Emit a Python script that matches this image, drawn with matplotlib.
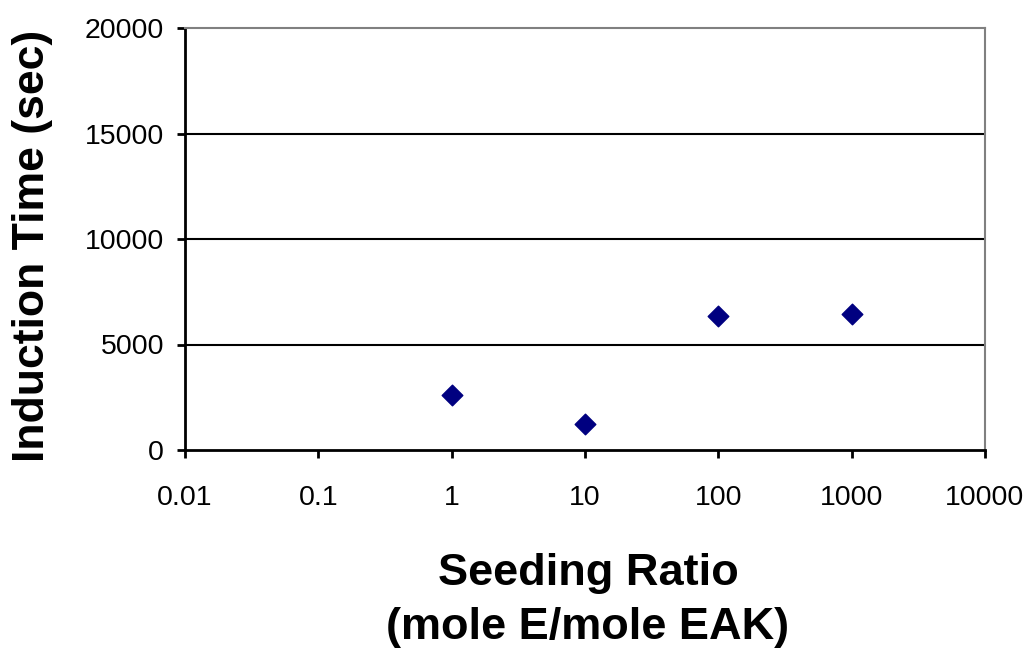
import numpy as np
import matplotlib.pyplot as plt
from matplotlib.ticker import FixedLocator, FixedFormatter, NullLocator

plt.rcParams['font.family'] = ['Liberation Sans', 'DejaVu Sans']

# dados
razao = [1, 10, 100, 1000]
tempo = [2620, 1250, 6340, 6450]
xticks = [0.01, 0.1, 1, 10, 100, 1000, 10000]
xtick_labels = ['0.01', '0.1', '1', '10', '100', '1000', '10000']
yticks = [0, 5000, 10000, 15000, 20000]

fig = plt.figure(figsize=(10.33, 6.51), dpi=100)
ax = fig.add_axes([185/1033, 1 - 450/651, 800/1033, 422/651])

ax.scatter(razao, tempo, marker='D', s=110, color='#000080', zorder=3)

ax.set_xscale('log')
ax.set_xlim(0.01, 10000)
ax.set_ylim(0, 20000)
ax.xaxis.set_major_locator(FixedLocator(xticks))
ax.xaxis.set_major_formatter(FixedFormatter(xtick_labels))
ax.xaxis.set_minor_locator(NullLocator())
ax.set_yticks(yticks)
ax.set_yticklabels([str(v) for v in yticks])

for v in yticks[1:-1]:
    ax.axhline(v, color='black', lw=1.5, zorder=1)

for s in ['left', 'bottom']:
    ax.spines[s].set_color('black')
    ax.spines[s].set_linewidth(2)
for s in ['top', 'right']:
    ax.spines[s].set_color('#808080')
    ax.spines[s].set_linewidth(1.5)

ax.tick_params(axis='both', direction='out', length=6, width=2, labelsize=20.5, colors='black')
ax.tick_params(axis='x', pad=19)
ax.tick_params(axis='y', pad=9)

fig.text(588/1033, 1 - 573/651, 'Seeding Ratio', fontsize=32.5, fontweight='bold',
         ha='center', va='center')
fig.text(588/1033, 1 - 628/651, '(mole E/mole EAK)', fontsize=32.5, fontweight='bold',
         ha='center', va='center')
fig.text(33/1033, 1 - 246/651, 'Induction Time (sec)', fontsize=32, fontweight='bold',
         ha='center', va='center', rotation=90)

fig.savefig('out.png', dpi=100)
